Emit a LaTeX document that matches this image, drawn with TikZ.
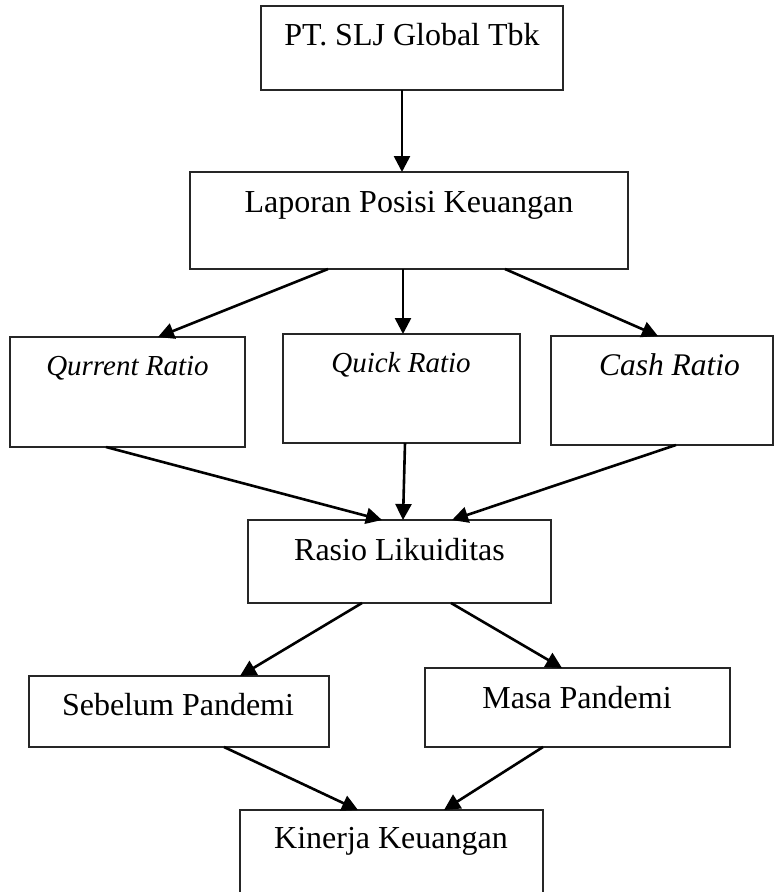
\documentclass[tikz,border=0pt]{standalone}
\usepackage{fontspec}
\setmainfont{Liberation Serif}
\usetikzlibrary{arrows.meta,calc}
\tikzset{
  boxnode/.style={draw=black!85, line width=1.3pt, rectangle, inner sep=0pt, outer sep=0pt, anchor=north west},
  lbl/.style={anchor=base, inner sep=0pt, font=\fontsize{32}{38}\selectfont},
  ilbl/.style={anchor=base, inner sep=0pt, font=\fontsize{29}{35}\selectfont\itshape},
  arr/.style={line width=2.6pt, -{Triangle[length=16pt,width=16pt]}}
}
\begin{document}
\begin{tikzpicture}[x=1pt,y=-1pt]
\useasboundingbox (0,0) rectangle (775,892);
\clip (0,0) rectangle (775,892);
% boxes
\node[boxnode, minimum width=302pt, minimum height=84pt] (pt) at (261,6) {};
\node[boxnode, minimum width=438pt, minimum height=97pt] (lap) at (190,172) {};
\node[boxnode, minimum width=235pt, minimum height=110pt] (qur) at (10,337) {};
\node[boxnode, minimum width=237pt, minimum height=109pt] (qui) at (283,334) {};
\node[boxnode, minimum width=222pt, minimum height=109pt] (cas) at (551,336) {};
\node[boxnode, minimum width=303pt, minimum height=83pt] (ras) at (248,520) {};
\node[boxnode, minimum width=300pt, minimum height=71pt] (seb) at (29,676) {};
\node[boxnode, minimum width=305pt, minimum height=79pt] (mas) at (425,668) {};
\node[boxnode, minimum width=303pt, minimum height=95pt] (kin) at (240,810) {};
% texts
\node[lbl] (ptT) at (412,45) {PT. SLJ Global Tbk};
\node[lbl] (lapT) at (409,212) {Laporan Posisi Keuangan};
\node[ilbl] (qurT) at (127.5,375) {Qurrent Ratio};
\node[ilbl] (quiT) at (401,372) {Quick Ratio};
\node[ilbl, font=\fontsize{31.5}{37}\selectfont\itshape] (casT) at (669.5,375) {Cash Ratio};
\node[lbl] (rasT) at (399.5,560) {Rasio Likuiditas};
\node[lbl] (sebT) at (178,715) {Sebelum Pandemi};
\node[lbl] (masT) at (577,708) {Masa Pandemi};
\node[lbl] (kinT) at (391,848) {Kinerja Keuangan};
% arrows
\draw[arr] ($(pt.south west)+(141,0)$) -- ($(lap.north west)+(212,0)$);
\draw[arr] ($(lap.south west)+(138,0)$) -- ($(qur.north west)+(148,0)$);
\draw[arr] ($(lap.south west)+(213,0)$) -- ($(qui.north west)+(120,0)$);
\draw[arr] ($(lap.south west)+(315,0)$) -- ($(cas.north west)+(107,0)$);
\draw[arr] ($(qur.south west)+(96,0)$) -- ($(ras.north west)+(134,0)$);
\draw[arr] ($(qui.south west)+(122,0)$) -- ($(ras.north west)+(155,0)$);
\draw[arr] ($(cas.south west)+(125,0)$) -- ($(ras.north west)+(204,0)$);
\draw[arr] ($(ras.south west)+(114,0)$) -- ($(seb.north west)+(211,0)$);
\draw[arr] ($(ras.south west)+(203,0)$) -- ($(mas.north west)+(137,0)$);
\draw[arr] ($(seb.south west)+(195,0)$) -- ($(kin.north west)+(118,0)$);
\draw[arr] ($(mas.south west)+(118,0)$) -- ($(kin.north west)+(204,0)$);
\end{tikzpicture}
\end{document}
